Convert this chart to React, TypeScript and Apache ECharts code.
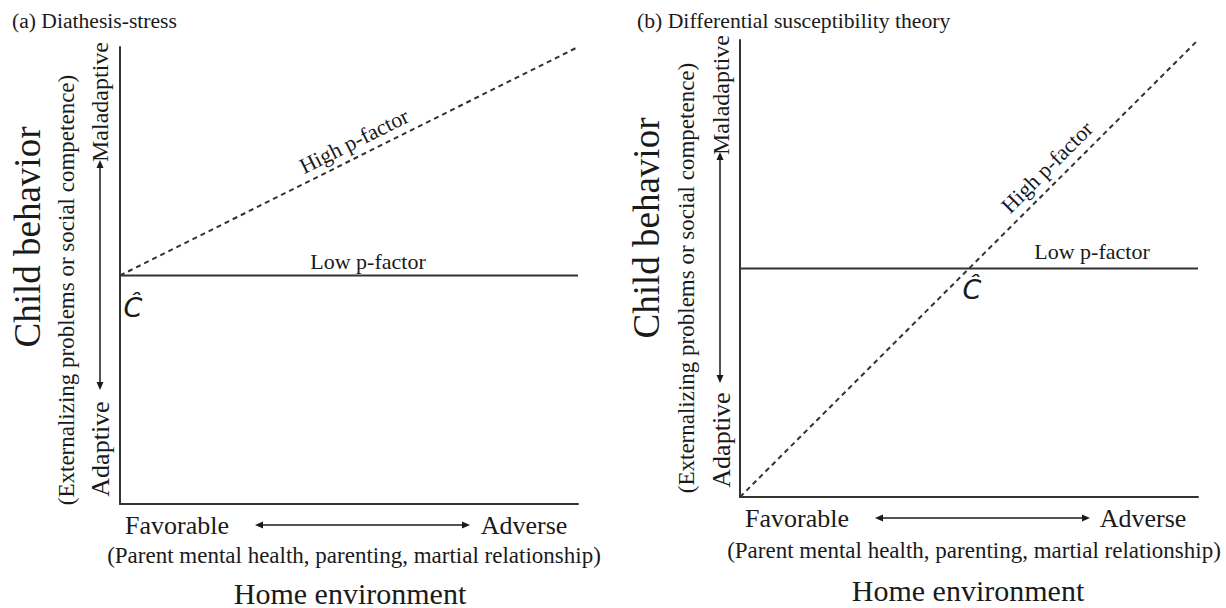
import React, { useEffect, useRef } from "react";
import * as echarts from "echarts";

// Data (normalized environment / behavior scale)
const envX = [0, 1];
const diathesisLow = [0.5, 0.5];
const diathesisHigh = [0.5, 1.0];
const diffLow = [0.5, 0.5];
const diffHigh = [0, 1.0];

const panelTitles = ["(a) Diathesis-stress", "(b) Differential susceptibility theory"];
const yTitle = "Child behavior";
const ySubtitle = "(Externalizing problems or social competence)";
const yEnds = ["Adaptive", "Maladaptive"];
const xTitle = "Home environment";
const xSubtitle = "(Parent mental health, parenting, martial relationship)";
const xEnds = ["Favorable", "Adverse"];
const lineNames = ["Low p-factor", "High p-factor"];
const cHat = "Ĉ";

const SERIF = "'Liberation Serif', 'Times New Roman', serif";
const INK = "#1a1a1a";
const LINE = "#333";

function txt(text: string, x: number, y: number, size: number, rotation = 0, extra: any = {}) {
  return {
    type: "text",
    x,
    y,
    rotation,
    style: {
      text,
      font: `${extra.italic ? "italic " : ""}${size}px ${extra.family || SERIF}`,
      fill: INK,
      textAlign: extra.align || "center",
      textVerticalAlign: extra.valign || "middle",
    },
    silent: true,
  };
}

function hArrow(x1: number, x2: number, y: number) {
  const h = 8, w = 3.5;
  return [
    { type: "line", shape: { x1: x1 + 3, y1: y, x2: x2 - 3, y2: y }, style: { stroke: INK, lineWidth: 1.5 } },
    { type: "polygon", shape: { points: [[x1, y], [x1 + h, y - w], [x1 + h, y + w]] }, style: { fill: INK } },
    { type: "polygon", shape: { points: [[x2, y], [x2 - h, y - w], [x2 - h, y + w]] }, style: { fill: INK } },
  ];
}

function vArrow(x: number, y1: number, y2: number) {
  const h = 8, w = 3.5;
  return [
    { type: "line", shape: { x1: x, y1: y1 + 3, x2: x, y2: y2 - 3 }, style: { stroke: INK, lineWidth: 1.5 } },
    { type: "polygon", shape: { points: [[x, y1], [x - w, y1 + h], [x + w, y1 + h]] }, style: { fill: INK } },
    { type: "polygon", shape: { points: [[x, y2], [x - w, y2 - h], [x + w, y2 - h]] }, style: { fill: INK } },
  ];
}

export default function App() {
  const ref = useRef<HTMLDivElement>(null);

  useEffect(() => {
    if (!ref.current) return;
    const chart = echarts.init(ref.current, null, { renderer: "svg" });

    const axisCommon = {
      type: "value",
      min: 0,
      max: 1,
      axisLine: { show: true, onZero: false, lineStyle: { color: LINE, width: 2 } },
      axisTick: { show: false },
      axisLabel: { show: false },
      splitLine: { show: false },
    };

    const mk = (name: string, data: number[], xi: number, dashed: boolean) => ({
      name,
      type: "line",
      xAxisIndex: xi,
      yAxisIndex: xi,
      data: envX.map((x, i) => [x, data[i]]),
      showSymbol: false,
      symbol: "none",
      lineStyle: { color: LINE, width: 2, type: dashed ? [5, 4] : "solid" },
      silent: true,
      z: 3,
    });

    const cFont = { italic: true, family: "'DejaVu Sans', sans-serif" };

    const graphics: any[] = [
      txt(panelTitles[0], 12, 21, 21.6, 0, { align: "left" }),
      txt(panelTitles[1], 637, 21, 21.7, 0, { align: "left" }),
      // left panel
      txt(yTitle, 27, 237, 37, Math.PI / 2),
      txt(ySubtitle, 66, 290, 23, Math.PI / 2),
      txt(yEnds[1], 100, 102, 24, Math.PI / 2),
      txt(yEnds[0], 100, 449, 26, Math.PI / 2),
      ...vArrow(100, 160, 390),
      txt(lineNames[0], 368, 261, 22),
      txt(lineNames[1], 354, 141, 22, Math.atan(0.5)),
      txt(cHat, 133, 307, 27, 0, cFont),
      txt(xEnds[0], 177, 525, 26),
      txt(xEnds[1], 524, 525, 26),
      ...hArrow(255, 470, 525),
      txt(xSubtitle, 354, 555, 23),
      txt(xTitle, 350, 593, 30),
      // right panel
      txt(yTitle, 646, 228, 37, Math.PI / 2),
      txt(ySubtitle, 686, 278, 23, Math.PI / 2),
      txt(yEnds[1], 721, 95, 24, Math.PI / 2),
      txt(yEnds[0], 721, 440, 26, Math.PI / 2),
      ...vArrow(720, 152, 383),
      txt(lineNames[0], 1092, 251, 22),
      txt(lineNames[1], 1047, 167, 22, Math.PI / 4),
      txt(cHat, 972, 289, 27, 0, cFont),
      txt(xEnds[0], 797, 518, 26),
      txt(xEnds[1], 1143, 518, 26),
      ...hArrow(875, 1090, 518),
      txt(xSubtitle, 974, 550, 23),
      txt(xTitle, 968, 590, 30),
    ];

    chart.setOption({
      animation: false,
      backgroundColor: "#ffffff",
      grid: [
        { left: 120, top: 47, width: 458, height: 457 },
        { left: 740, top: 40, width: 458, height: 457 },
      ],
      xAxis: [
        { ...axisCommon, gridIndex: 0 },
        { ...axisCommon, gridIndex: 1 },
      ],
      yAxis: [
        { ...axisCommon, gridIndex: 0 },
        { ...axisCommon, gridIndex: 1 },
      ],
      series: [
        mk(lineNames[0] + " (a)", diathesisLow, 0, false),
        mk(lineNames[1] + " (a)", diathesisHigh, 0, true),
        mk(lineNames[0] + " (b)", diffLow, 1, false),
        mk(lineNames[1] + " (b)", diffHigh, 1, true),
      ],
      graphic: graphics,
    });

    return () => chart.dispose();
  }, []);

  return (
    <div
      ref={ref}
      style={{ position: "absolute", left: 0, top: 0, width: 1226, height: 608, background: "#fff" }}
    />
  );
}
